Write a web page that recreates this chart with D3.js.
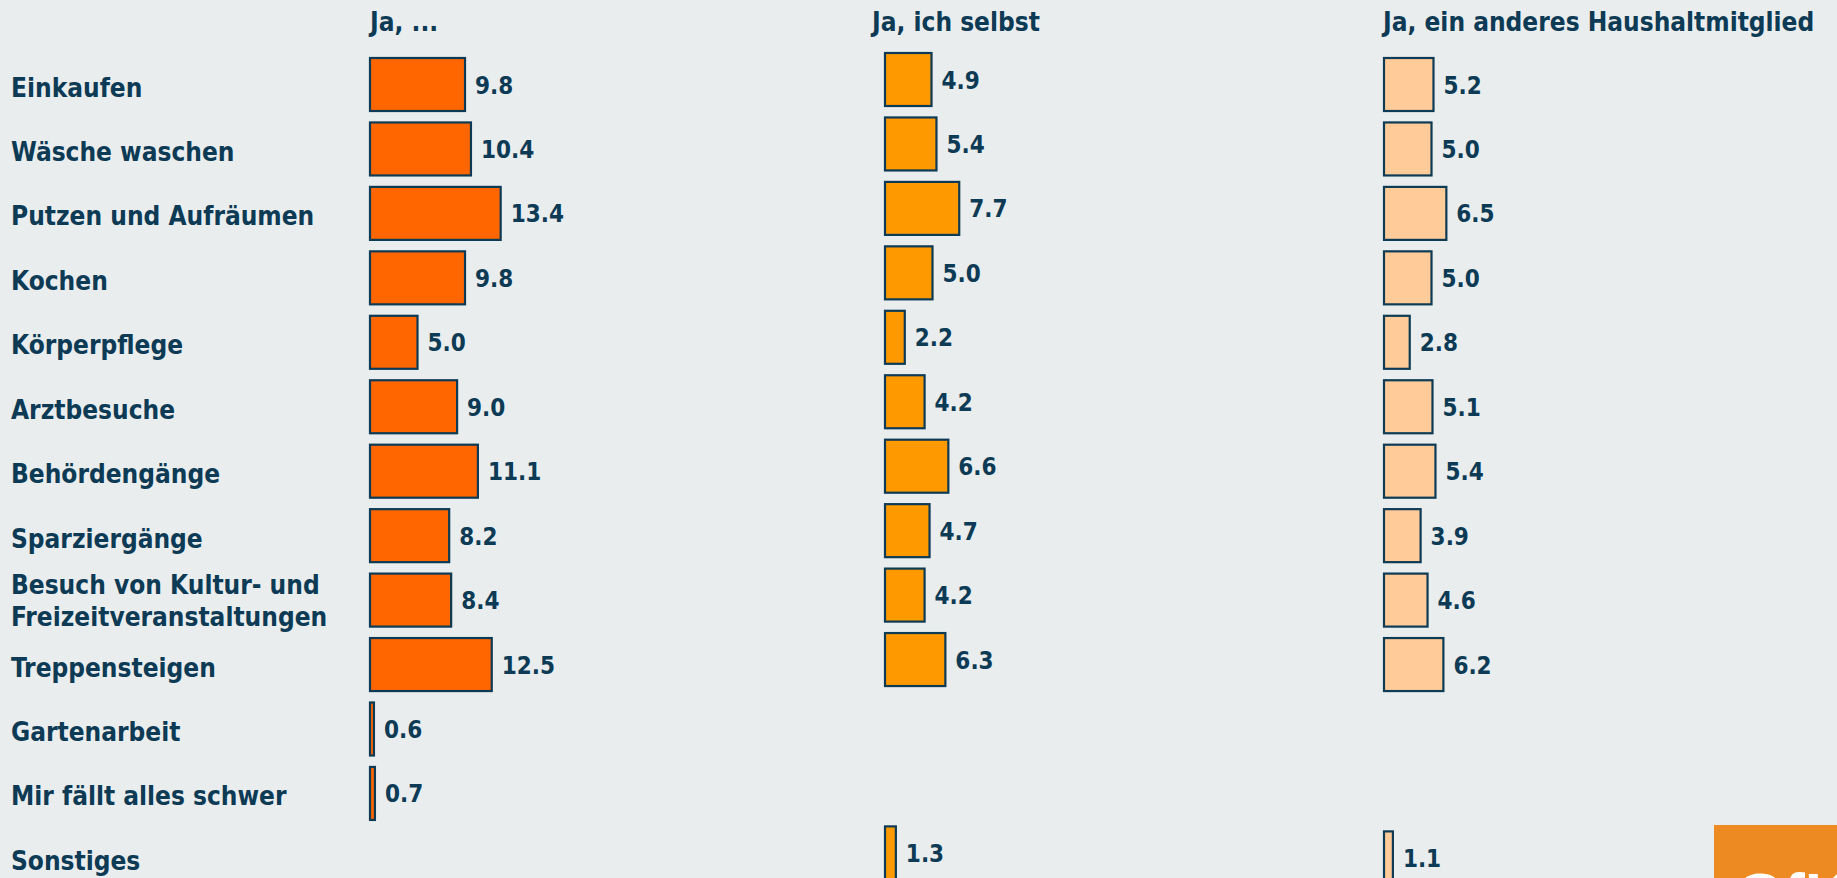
<!DOCTYPE html>
<html>
<head>
<meta charset="utf-8">
<script src="https://cdn.jsdelivr.net/npm/d3@7"></script>
<style>
  html, body { margin: 0; padding: 0; background: #e9edee; overflow: hidden; }
  svg { display: block; }
  text { font-family: "DejaVu Sans Condensed", "DejaVu Sans", sans-serif; font-weight: bold; fill: #0d3a54; }
</style>
</head>
<body>
<svg id="chart" width="1837" height="878"></svg>
<script>
// ---- data ----
const categories = [
  "Einkaufen", "Wäsche waschen", "Putzen und Aufräumen", "Kochen", "Körperpflege",
  "Arztbesuche", "Behördengänge", "Sparziergänge",
  "Besuch von Kultur- und\nFreizeitveranstaltungen",
  "Treppensteigen", "Gartenarbeit", "Mir fällt alles schwer", "Sonstiges"
];
const seriesNames = ["Ja, ...", "Ja, ich selbst", "Ja, ein anderes Haushaltmitglied"];
const valuesJa = [9.8, 10.4, 13.4, 9.8, 5.0, 9.0, 11.1, 8.2, 8.4, 12.5, 0.6, 0.7, null];
const valuesSelbst = [4.9, 5.4, 7.7, 5.0, 2.2, 4.2, 6.6, 4.7, 4.2, 6.3, null, null, 1.3];
const valuesAnderes = [5.2, 5.0, 6.5, 5.0, 2.8, 5.1, 5.4, 3.9, 4.6, 6.2, null, null, 1.1];

// ---- layout ----
const W = 1837, H = 878;
const svg = d3.select("#chart");
svg.append("rect").attr("width", W).attr("height", H).attr("fill", "#e9edee");

const y = d3.scaleBand()
  .domain(categories)
  .range([57, 57 + 13 * 64.45 - 9.45])
  .paddingInner(0.1466)
  .paddingOuter(0);

const x = d3.scaleLinear().domain([0, 14]).range([0, 14 * 9.9]);

const columns = [
  { name: seriesNames[0], values: valuesJa, x0: 369, titleX: 370, dy: 0, fill: "#ff6600" },
  { name: seriesNames[1], values: valuesSelbst, x0: 884, titleX: 872, dy: -5, fill: "#ff9900" },
  { name: seriesNames[2], values: valuesAnderes, x0: 1383, titleX: 1383, dy: 0, fill: "#ffcc99" }
];

// category labels
const labels = svg.append("g").attr("class", "labels");
categories.forEach(c => {
  const lines = c.split("\n");
  const cy = y(c) + y.bandwidth() / 2;
  const t = labels.append("text").attr("x", 11).style("font-size", "26px");
  if (lines.length === 1) {
    t.attr("y", cy + 12).text(c);
  } else {
    lines.forEach((ln, i) => {
      t.append("tspan").attr("x", 11)
        .attr("y", cy + 10 + (i - (lines.length - 1) / 2) * 32)
        .text(ln);
    });
  }
});

// columns
columns.forEach(col => {
  const g = svg.append("g").attr("transform", `translate(${col.x0},${col.dy})`);
  svg.append("text").attr("x", col.titleX).attr("y", 31)
    .style("font-size", "26px").text(col.name);
  const data = categories.map((c, i) => ({ c, v: col.values[i] })).filter(d => d.v != null);
  g.selectAll("rect.bar").data(data).enter().append("rect")
    .attr("class", "bar")
    .attr("x", 1)
    .attr("y", d => y(d.c) + 1)
    .attr("width", d => Math.max(0, x(d.v) - 2))
    .attr("height", y.bandwidth() - 2)
    .attr("fill", col.fill)
    .attr("stroke", "#0d3a54")
    .attr("stroke-width", 2.2);
  g.selectAll("text.val").data(data).enter().append("text")
    .attr("class", "val")
    .attr("x", d => x(d.v) + 9)
    .attr("y", d => y(d.c) + y.bandwidth() / 2 + 9)
    .style("font-size", "24px")
    .text(d => d3.format(".1f")(d.v));
});

// logo corner (decorative)
svg.append("rect").attr("x", 1714).attr("y", 825).attr("width", W - 1714).attr("height", H - 825).attr("fill", "#ee8a22");
svg.append("text").attr("x", 1736).attr("y", 916).style("font-size", "62px").style("fill", "#ffffff")
  .style("font-family", "'Liberation Sans', Arial, sans-serif").text("GfK");
</script>
</body>
</html>
